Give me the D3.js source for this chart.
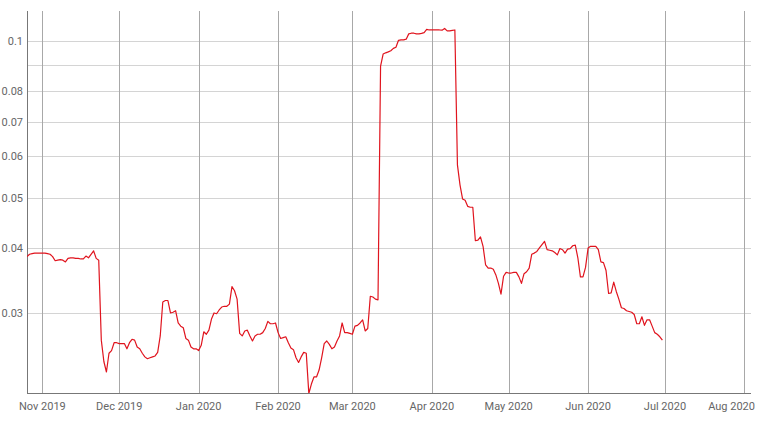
<!DOCTYPE html>
<html>
<head>
<meta charset="utf-8">
<script src="https://cdn.jsdelivr.net/npm/d3@7"></script>
<style>
  body { margin: 0; background: #fff; }
  text { font-family: Roboto, "Noto Sans", sans-serif; font-size: 11px; fill: #666; }
</style>
</head>
<body>
<div id="chart"></div>
<script>
// daily values, one array per month (first day of each array given)
var octStart = "2019-10-26";
var octValues = [0.0385, 0.0389, 0.0390, 0.0391, 0.0391, 0.0391];
var novValues = [0.0391, 0.0391, 0.0390, 0.0389, 0.0385, 0.0378, 0.0379, 0.0380, 0.0379, 0.0376,
                 0.0382, 0.0383, 0.0383, 0.0382, 0.0382, 0.0381, 0.0381, 0.0386, 0.0383, 0.0389,
                 0.0395, 0.0382, 0.0379, 0.0266, 0.0242, 0.0231, 0.0251, 0.0254, 0.0263, 0.0263];
var decValues = [0.0262, 0.0262, 0.0262, 0.0256, 0.0263, 0.0267, 0.0266, 0.0258, 0.0256, 0.0251,
                 0.0247, 0.0245, 0.0246, 0.0247, 0.0248, 0.0252, 0.0271, 0.0315, 0.0317, 0.0317,
                 0.0300, 0.0301, 0.0303, 0.0287, 0.0283, 0.0281, 0.0268, 0.0266, 0.0258, 0.0256, 0.0256];
var janValues = [0.0254, 0.0260, 0.0276, 0.0273, 0.0278, 0.0292, 0.0300, 0.0299, 0.0304, 0.0308,
                 0.0309, 0.0309, 0.0312, 0.0337, 0.0331, 0.0319, 0.0274, 0.0271, 0.0277, 0.0278,
                 0.0271, 0.0265, 0.0271, 0.0273, 0.0273, 0.0275, 0.0280, 0.0289, 0.0286, 0.0286, 0.0287];
var febValues = [0.0275, 0.0268, 0.0269, 0.0270, 0.0263, 0.0257, 0.0255, 0.0246, 0.0241, 0.0247,
                 0.0252, 0.0251, 0.0210, 0.0219, 0.0226, 0.0226, 0.0233, 0.0246, 0.0262, 0.0265,
                 0.0261, 0.0256, 0.0258, 0.0265, 0.0271, 0.0287, 0.0275, 0.0275, 0.0274];
var marValues = [0.0273, 0.0283, 0.0284, 0.0287, 0.0291, 0.0277, 0.0280, 0.0323, 0.0322, 0.0319,
                 0.0318, 0.0895, 0.0944, 0.0949, 0.0953, 0.0958, 0.0968, 0.0973, 0.1003, 0.1005,
                 0.1005, 0.1008, 0.1032, 0.1035, 0.1035, 0.1032, 0.1032, 0.1034, 0.1038, 0.1053, 0.1050];
var aprValues = [0.1050, 0.1050, 0.1050, 0.1050, 0.1049, 0.1057, 0.1046, 0.1046, 0.1048, 0.1050,
                 0.0578, 0.0529, 0.0497, 0.0494, 0.0481, 0.0479, 0.0479, 0.0413, 0.0414, 0.0420,
                 0.0403, 0.0371, 0.0366, 0.0366, 0.0364, 0.0355, 0.0342, 0.0326, 0.0353, 0.0359];
var mayValues = [0.0358, 0.0358, 0.0359, 0.0359, 0.0352, 0.0342, 0.0357, 0.0360, 0.0366, 0.0389,
                 0.0391, 0.0394, 0.0400, 0.0406, 0.0412, 0.0397, 0.0396, 0.0395, 0.0392, 0.0388,
                 0.0399, 0.0397, 0.0391, 0.0398, 0.0399, 0.0404, 0.0405, 0.0383, 0.0352, 0.0352, 0.0367];
var junValues = [0.0400, 0.0403, 0.0403, 0.0403, 0.0397, 0.0376, 0.0375, 0.0362, 0.0327, 0.0328,
                 0.0344, 0.0330, 0.0319, 0.0307, 0.0306, 0.0303, 0.0302, 0.0301, 0.0298, 0.0286,
                 0.0286, 0.0295, 0.0284, 0.0291, 0.0291, 0.0283, 0.0275, 0.0273, 0.0270, 0.0266];

var yTicks = [0.03, 0.04, 0.05, 0.06, 0.07, 0.08, 0.09, 0.1];
var yLabels = ["0.03", "0.04", "0.05", "0.06", "0.07", "0.08", "", "0.1"];
var xTicks = ["2019-11-01", "2019-12-01", "2020-01-01", "2020-02-01", "2020-03-01",
              "2020-04-01", "2020-05-01", "2020-06-01", "2020-07-01", "2020-08-01"];

var parseDate = d3.timeParse("%Y-%m-%d");

var allValues = [].concat(octValues, novValues, decValues, janValues, febValues,
                          marValues, aprValues, mayValues, junValues);
var start = parseDate(octStart);
var data = allValues.map(function(v, i) {
  return { date: d3.timeDay.offset(start, i), value: v };
});

var width = 768, height = 421;
var plot = {left: 27, right: 751, top: 11, bottom: 393};

var x = d3.scaleTime()
    .domain([start, new Date(2020, 7, 3, 14)])
    .range([plot.left, plot.right]);

var y = d3.scaleLog()
    .domain([0.02105, 0.1142])
    .range([plot.bottom, plot.top]);

var svg = d3.select("#chart").append("svg")
    .attr("width", width)
    .attr("height", height);

// horizontal gridlines
svg.append("g").selectAll("line")
    .data(yTicks)
  .enter().append("line")
    .attr("x1", plot.left).attr("x2", plot.right)
    .attr("y1", function(d) { return Math.round(y(d)) + 0.5; })
    .attr("y2", function(d) { return Math.round(y(d)) + 0.5; })
    .attr("stroke", "#d4d4d4");

// vertical gridlines at month starts
svg.append("g").selectAll("line")
    .data(xTicks.map(parseDate))
  .enter().append("line")
    .attr("x1", function(d) { return Math.round(x(d)) + 0.5; })
    .attr("x2", function(d) { return Math.round(x(d)) + 0.5; })
    .attr("y1", plot.top).attr("y2", plot.bottom)
    .attr("stroke", "#a8a8a8");

// axis lines
svg.append("line")
    .attr("x1", plot.left + 0.5).attr("x2", plot.left + 0.5)
    .attr("y1", plot.top).attr("y2", plot.bottom)
    .attr("stroke", "#777");
svg.append("line")
    .attr("x1", plot.left).attr("x2", plot.right)
    .attr("y1", plot.bottom + 0.5).attr("y2", plot.bottom + 0.5)
    .attr("stroke", "#777");

// y labels
svg.append("g").selectAll("text")
    .data(yTicks)
  .enter().append("text")
    .attr("x", plot.left - 4)
    .attr("y", function(d) { return y(d) + 4; })
    .attr("text-anchor", "end")
    .text(function(d, i) { return yLabels[i]; });

// x labels (kept inside the chart on the right like the original)
var fmt = d3.timeFormat("%b %Y");
svg.append("g").selectAll("text")
    .data(xTicks.map(parseDate))
  .enter().append("text")
    .attr("y", 410)
    .attr("text-anchor", "middle")
    .text(function(d) { return fmt(d); })
    .attr("x", function(d) {
      var w = this.getComputedTextLength();
      return Math.min(x(d), 755 - w / 2);
    });

var line = d3.line()
    .x(function(d) { return x(d.date); })
    .y(function(d) { return y(d.value); });

svg.append("clipPath")
    .attr("id", "clip")
  .append("rect")
    .attr("x", plot.left).attr("y", plot.top)
    .attr("width", plot.right - plot.left).attr("height", plot.bottom - plot.top);

svg.append("path")
    .datum(data)
    .attr("clip-path", "url(#clip)")
    .attr("fill", "none")
    .attr("stroke", "#e0141e")
    .attr("stroke-width", 1.2)
    .attr("stroke-linejoin", "round")
    .attr("d", line);
</script>
</body>
</html>
